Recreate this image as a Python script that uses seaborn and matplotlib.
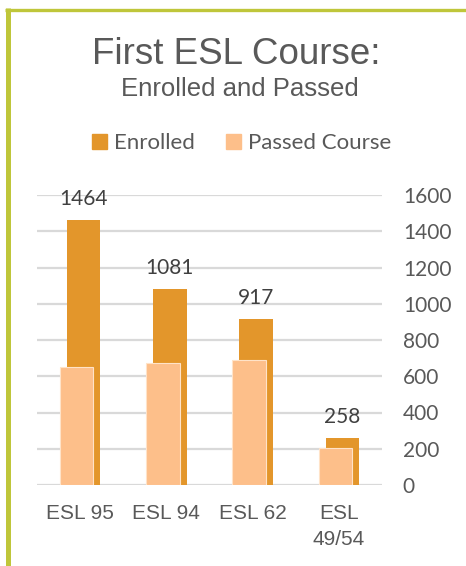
import pandas as pd
import seaborn as sns
import matplotlib
import matplotlib.pyplot as plt
from matplotlib.lines import Line2D
from matplotlib.patches import Patch

matplotlib.use('Agg')
sns.set_theme(style="white")

courses = ['ESL 95', 'ESL 94', 'ESL 62', 'ESL\n49/54']
enrolled = [1464, 1081, 917, 258]
passed = [652, 672, 688, 205]
yticks = [0, 200, 400, 600, 800, 1000, 1200, 1400, 1600]

c_enr = '#E3962B'
c_pass = '#FDBF8A'
txt = '#595959'

pos = list(range(len(courses)))
df = pd.DataFrame({
    'x': [p + 0.04 for p in pos] + [p - 0.04 for p in pos],
    'n': enrolled + passed,
    'series': ['Enrolled'] * len(pos) + ['Passed Course'] * len(pos),
})

fig = plt.figure(figsize=(4.66, 5.66), dpi=100)
ax = fig.add_axes([37 / 466, 81 / 566, 345 / 466, 290 / 566])

sns.barplot(data=df[df.series == 'Enrolled'], x='x', y='n', native_scale=True,
            color=c_enr, width=0.39, saturation=1, errorbar=None, ax=ax,
            linewidth=0, zorder=2)
sns.barplot(data=df[df.series == 'Passed Course'], x='x', y='n', native_scale=True,
            color=c_pass, width=0.39, saturation=1, errorbar=None, ax=ax,
            edgecolor='#FFE3C8', linewidth=0.8, zorder=3)

for p, v in zip(pos, enrolled):
    ax.annotate(str(v), (p + 0.04, v), xytext=(0, 8), textcoords='offset points',
                ha='center', va='bottom', fontsize=15, color='#404040',
                family='Lato', annotation_clip=False)

ax.set_xlim(-0.5, len(courses) - 0.5)
ax.set_ylim(0, 1600)
ax.set_yticks(yticks)
ax.set_yticklabels([str(t) for t in yticks], family='Lato', fontsize=15, color=txt)
ax.yaxis.tick_right()
ax.tick_params(axis='y', length=0, pad=15)
for lab in ax.get_yticklabels():
    lab.set_horizontalalignment('left')
ax.set_xticks(pos)
ax.set_xticklabels(courses, family='Liberation Sans', fontsize=15, color=txt,
                   linespacing=1.45)
ax.tick_params(axis='x', length=0, pad=14)
ax.set_xlabel('')
ax.set_ylabel('')
ax.grid(axis='y', color='#D9D9D9', linewidth=1.6, zorder=0)
ax.set_axisbelow(True)
for s in ax.spines.values():
    s.set_visible(False)

fig.text(0.508, 0.904, 'First ESL Course:', ha='center', va='center',
         family='Liberation Sans', fontsize=26.5, color=txt)
fig.text(0.514, 0.842, 'Enrolled and Passed', ha='center', va='center',
         family='Liberation Sans', fontsize=18.5, color=txt)

handles = [Patch(color=c_enr, label='Enrolled'), Patch(color=c_pass, label='Passed Course')]
fig.legend(handles=handles, loc='center', bbox_to_anchor=(0.518, 0.747), ncol=2,
           frameon=False, handlelength=0.7, handleheight=0.7, handletextpad=0.3,
           columnspacing=1.4, prop={'family': 'Lato', 'size': 16}, labelcolor=txt)

# slide frame
fig.add_artist(Line2D([5 / 466, 1], [1 - 9.5 / 566] * 2, color='#BFC63A', lw=2.4,
                      transform=fig.transFigure, solid_capstyle='butt'))
fig.add_artist(Line2D([7.5 / 466] * 2, [0, 1 - 8 / 566], color='#BFC63A', lw=3.6,
                      transform=fig.transFigure, solid_capstyle='butt'))

fig.savefig('out.png', dpi=100)
